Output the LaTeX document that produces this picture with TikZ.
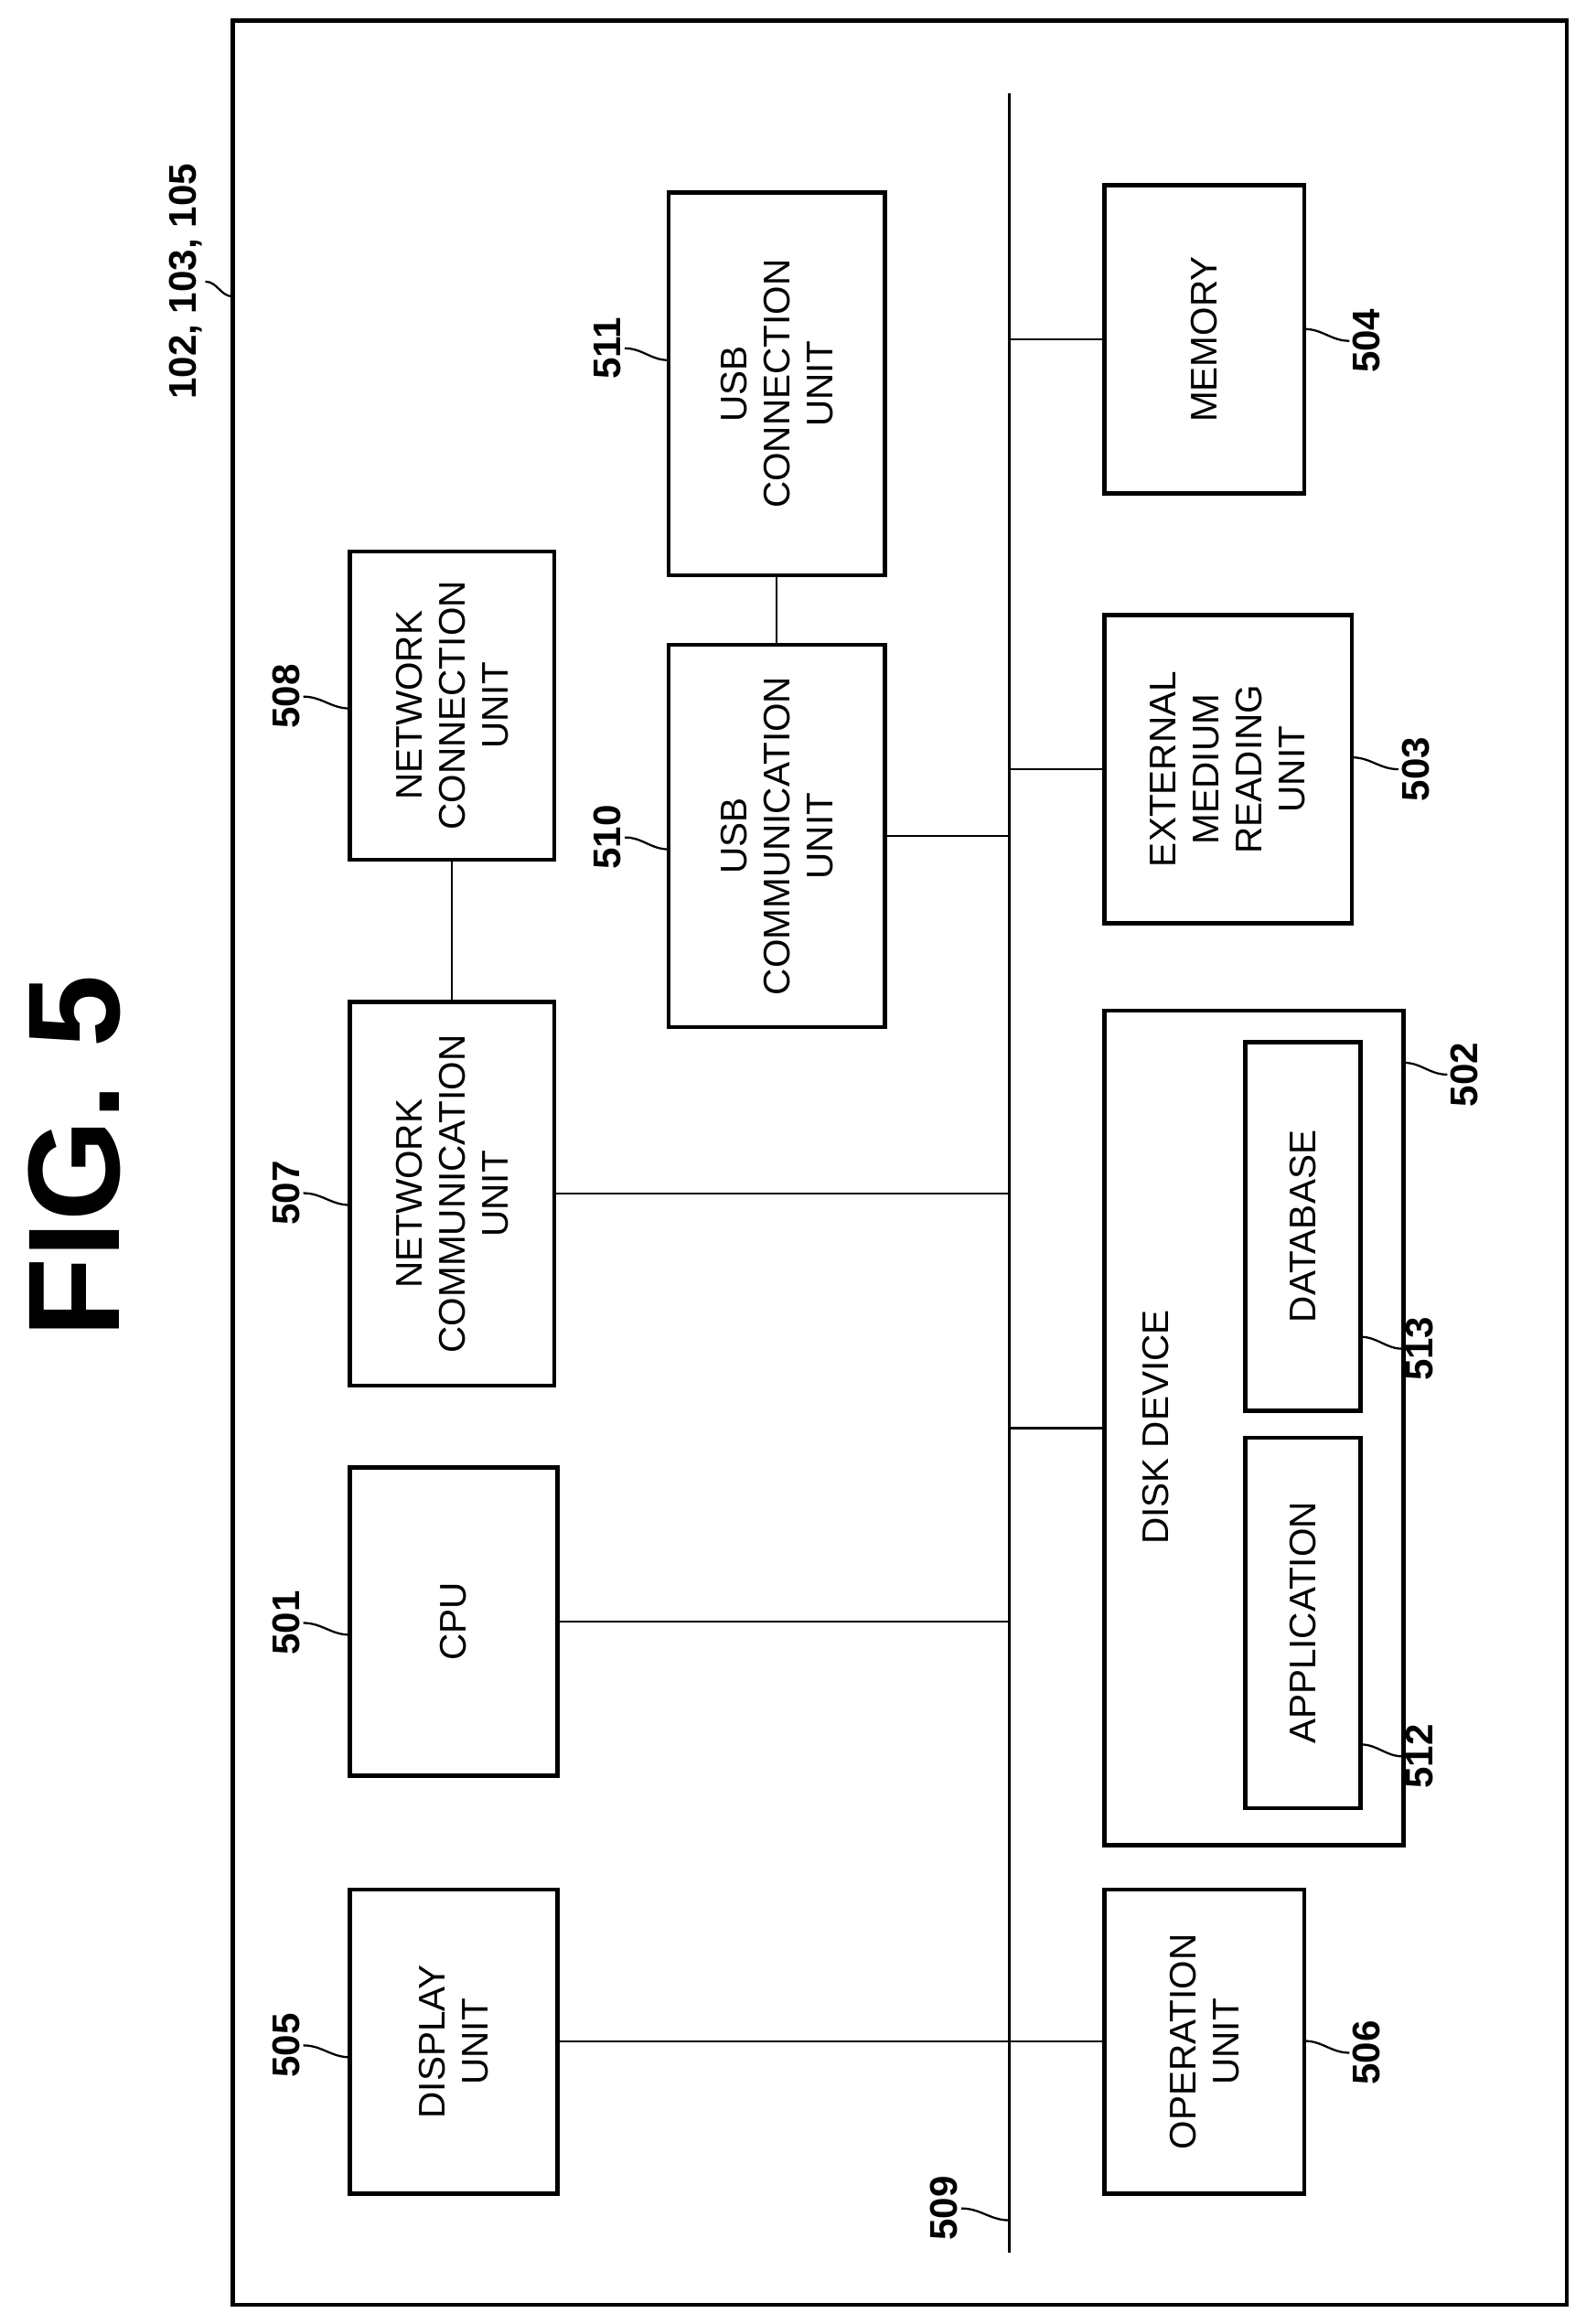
\documentclass[tikz,border=0pt]{standalone}
\usepackage{fontspec}
\setmainfont{Liberation Sans}
\begin{document}
\begin{tikzpicture}[x=0.5pt,y=-0.5pt,
  blk/.style={draw,line width=1.4pt,rotate=90,align=center,inner sep=0pt,font=\fontsize{12.5}{14.5}\selectfont},
  lab/.style={rotate=90,font=\bfseries\fontsize{13}{15}\selectfont,inner sep=1pt},
  con/.style={line width=0.7pt},
  lead/.style={line width=0.7pt}]
\useasboundingbox (0,0) rectangle (1070,1568);
\draw[line width=1.4pt] (157,14) rectangle (1057,1555);
\coordinate (bt) at (681,63); \coordinate (bb) at (681,1520);
\draw[line width=1pt] (bt) -- (bb);
\node[rotate=90,font=\bfseries\fontsize{44}{48}\selectfont] (fig) at (50,780) {FIG. 5};
% boxes
\node[blk,minimum width=102.5pt,minimum height=70pt] (disp) at (306,1377.5) {DISPLAY\\UNIT};
\node[blk,minimum width=104pt,minimum height=70pt] (cpu) at (306,1094) {CPU};
\node[blk,minimum width=129.5pt,minimum height=69pt] (ncom) at (305,805.5) {NETWORK\\COMMUNICATION\\UNIT};
\node[blk,minimum width=104pt,minimum height=69pt] (ncon) at (305,476) {NETWORK\\CONNECTION\\UNIT};
\node[blk,minimum width=129pt,minimum height=73pt] (ucom) at (524,564) {USB\\COMMUNICATION\\UNIT};
\node[blk,minimum width=129pt,minimum height=73pt] (ucon) at (524,259) {USB\\CONNECTION\\UNIT};
\node[blk,minimum width=104pt,minimum height=67.5pt] (mem) at (812.5,229) {MEMORY};
\node[blk,minimum width=104pt,minimum height=83.5pt] (ext) at (828.5,519) {EXTERNAL\\MEDIUM\\READING\\UNIT};
\node[blk,minimum width=281.5pt,minimum height=101pt] (disk) at (846,963.5) {};
\node[rotate=90,font=\fontsize{12.5}{14.5}\selectfont] (dtxt) at (780,963) {DISK DEVICE};
\node[blk,minimum width=124.5pt,minimum height=39pt] (db) at (879,827.5) {DATABASE};
\node[blk,minimum width=125pt,minimum height=39pt] (app) at (879,1095) {APPLICATION};
\node[blk,minimum width=102.5pt,minimum height=67.5pt] (op) at (812.5,1377.5) {OPERATION\\UNIT};
% connectors
\draw[con] (disp.south) -- (disp.south -| bt);
\draw[con] (cpu.south) -- (cpu.south -| bt);
\draw[con] (ncom.south) -- (ncom.south -| bt);
\draw[con] (ucom.south) -- (ucom.south -| bt);
\draw[con] (ncom.east) -- (ncon.west);
\draw[con] (ucom.east) -- (ucon.west);
\draw[con] (mem.north) -- (mem.north -| bt);
\draw[con] (ext.north) -- (ext.north -| bt);
\draw[con] (disk.north) -- (disk.north -| bt);
\draw[con] (op.north) -- (op.north -| bt);
% labels
\node[lab] (l102) at (125,190) {102, 103, 105};
\draw[lead] (l102.south) to[out=0,in=180] (157,200);
\node[lab] (l505) at (193,1380) {505};
\draw[lead] (l505.south) to[out=0,in=180] (236,1388);
\node[lab] (l501) at (193,1095) {501};
\draw[lead] (l501.south) to[out=0,in=180] (236,1103);
\node[lab] (l507) at (193,805) {507};
\draw[lead] (l507.south) to[out=0,in=180] (236,813);
\node[lab] (l508) at (193,470) {508};
\draw[lead] (l508.south) to[out=0,in=180] (236,478);
\node[lab] (l511) at (410,235) {511};
\draw[lead] (l511.south) to[out=0,in=180] (451,243);
\node[lab] (l510) at (410,565) {510};
\draw[lead] (l510.south) to[out=0,in=180] (451,573);
\node[lab] (l504) at (922,230) {504};
\draw[lead] (l504.north) to[out=180,in=0] (880,222);
\node[lab] (l503) at (955,519) {503};
\draw[lead] (l503.north) to[out=180,in=0] (912,511);
\node[lab] (l502) at (988,725) {502};
\draw[lead] (l502.north) to[out=180,in=0] (947,717);
\node[lab] (l513) at (958,910) {513};
\draw[lead] (l513.north) to[out=180,in=0] (918,902);
\node[lab] (l512) at (958,1185) {512};
\draw[lead] (l512.north) to[out=180,in=0] (918,1177);
\node[lab] (l506) at (922,1385) {506};
\draw[lead] (l506.north) to[out=180,in=0] (880,1377);
\node[lab] (l509) at (637,1490) {509};
\draw[lead] (l509.south) to[out=0,in=180] (681,1498);
\end{tikzpicture}
\end{document}
